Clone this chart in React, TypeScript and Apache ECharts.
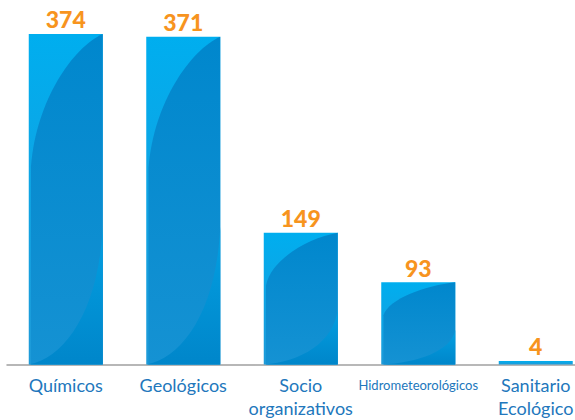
import React, { useEffect, useRef } from "react";
import * as echarts from "echarts";

const categories = [
  "Químicos",
  "Geológicos",
  "Socio\norganizativos",
  "Hidrometeorológicos",
  "Sanitario\nEcológico",
];
const values = [374, 371, 149, 93, 4];

const BAR_W = 74;

export default function App() {
  const ref = useRef<HTMLDivElement>(null);
  useEffect(() => {
    if (!ref.current) return;
    const chart = echarts.init(ref.current, null, { renderer: "svg" });
    const vGrad = (a: string, b: string) =>
      new echarts.graphic.LinearGradient(0, 0, 0, 1, [
        { offset: 0, color: a },
        { offset: 1, color: b },
      ]);
    chart.setOption({
      animation: false,
      grid: { left: 7, top: 11, width: 587.5, bottom: 55.5, containLabel: false },
      xAxis: {
        type: "category",
        data: categories,
        axisTick: { show: false },
        axisLine: { lineStyle: { color: "#a0a0a0", width: 1.5 } },
        axisLabel: {
          interval: 0,
          margin: 9,
          color: "#2277BC",
          fontFamily: "Lato",
          fontSize: 18,
          lineHeight: 23,
          formatter: (v: string) =>
            v === "Hidrometeorológicos" ? "{s|" + v + "}" : v,
          rich: {
            s: { fontSize: 13, fontFamily: "Lato", color: "#2277BC", lineHeight: 23 },
          },
        },
      },
      yAxis: { type: "value", min: 0, max: 400, show: false, splitLine: { show: false } },
      series: [
        {
          type: "bar",
          data: values,
          barWidth: BAR_W,
          itemStyle: { color: vGrad("#00AEEF", "#1E9AD8") },
          label: {
            show: true,
            position: "top",
            distance: 3,
            color: "#F7941E",
            fontFamily: "Lato",
            fontWeight: 900,
            fontSize: 23,
          },
          z: 2,
        },
        {
          type: "custom",
          data: values.map((v, i) => [i, v]),
          z: 3,
          silent: true,
          renderItem: (params: any, api: any) => {
            const idx = api.value(0);
            const val = api.value(1);
            const top = api.coord([idx, val]);
            const base = api.coord([idx, 0]);
            const w = BAR_W;
            const x0 = top[0] - w / 2;
            const x1 = x0 + w;
            const y0 = top[1];
            const y1 = base[1];
            const h = y1 - y0;
            if (h < 6) return { type: "group", children: [] };
            const a = 0.4 * h;
            const L = 0.42 * h;
            const xl = x0 + 0.03 * w;
            const upper =
              `M${x1},${y0} C${x0 + 0.6 * w},${y0 + 0.1 * a} ${x0 + 0.1 * w},${y0 + 0.5 * a} ${xl},${y0 + a} ` +
              `L${xl},${y1} L${x1},${y1} Z`;
            const lower =
              `M${x0},${y1} C${x0 + 0.5 * w},${y1 - 0.05 * L} ${x0 + 0.95 * w},${y1 - 0.4 * L} ${x1},${y1 - L} ` +
              `L${x1},${y1} Z`;
            return {
              type: "group",
              children: [
                {
                  type: "path",
                  shape: {
                    pathData: upper,
                    x: xl,
                    y: y0,
                    width: x1 - xl,
                    height: h,
                    layout: "cover",
                  },
                  style: { fill: vGrad("#0087CD", "#1592D3") },
                },
                {
                  type: "path",
                  shape: {
                    pathData: lower,
                    x: x0,
                    y: y1 - L,
                    width: w,
                    height: L,
                    layout: "cover",
                  },
                  style: { fill: vGrad("#03A0E2", "#0086CA") },
                },
              ],
            };
          },
        },
      ],
    });
    return () => chart.dispose();
  }, []);
  return (
    <div
      ref={ref}
      style={{ position: "fixed", left: 0, top: 0, width: 600, height: 420, background: "#fff" }}
    />
  );
}
